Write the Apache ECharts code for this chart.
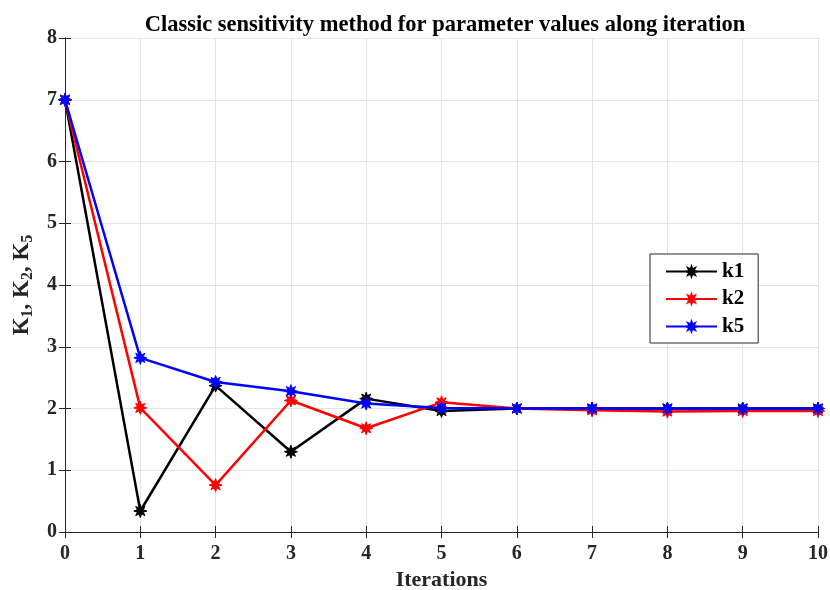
<!DOCTYPE html>
<html><head><meta charset="utf-8">
<script src="https://cdn.jsdelivr.net/npm/echarts@6/dist/echarts.min.js"></script>
<style>html,body{margin:0;padding:0;background:#fff}#c{width:830px;height:590px}</style>
</head><body><div id="c"></div>
<script>
const iterations = [0,1,2,3,4,5,6,7,8,9,10];
const k1 = [7, 0.34, 2.37, 1.30, 2.16, 1.96, 2.0, 2.0, 2.0, 2.0, 2.0];
const k2 = [7, 2.01, 0.76, 2.13, 1.68, 2.10, 2.0, 1.97, 1.95, 1.96, 1.96];
const k5 = [7, 2.82, 2.43, 2.28, 2.08, 2.01, 2.0, 2.0, 2.0, 2.0, 2.0];
const seriesNames = ['k1','k2','k5'];
const colors = ['#000000','#ff0000','#0000ff'];

const star = 'path://M1,0 L0.45,0.19 L0.707,0.707 L0.19,0.45 L0,1 L-0.19,0.45 L-0.707,0.707 L-0.45,0.19 L-1,0 L-0.45,-0.19 L-0.707,-0.707 L-0.19,-0.45 L0,-1 L0.19,-0.45 L0.707,-0.707 L0.45,-0.19 Z';
const font = 'Liberation Serif';
const chart = echarts.init(document.getElementById('c'), null, {renderer:'canvas'});
const mk = (name, data, color) => ({
  name, type:'line', data: data.map((v,i)=>[iterations[i], v]),
  symbol: star, symbolSize: 13, showSymbol:true,
  lineStyle:{color, width:2.5}, itemStyle:{color, borderColor:color, borderWidth:1}, z:2
});
const axLine = {show:true, lineStyle:{color:'#262626', width:1}};
const axTick = () => ({show:true, inside:true, length:6, lineStyle:{color:'#262626'}});
chart.setOption({
  animation:false,
  backgroundColor:'#fff',
  title:{text:'Classic sensitivity method for parameter values along iteration', left:440, textAlign:'center', top:9,
    textStyle:{fontFamily:font, fontWeight:'bold', fontSize:22.5, color:'#000'}},
  grid:{left:65, right:12, top:38, bottom:58, outerBoundsMode:'none', containLabel:false},
  legend:{
    data: seriesNames, orient:'vertical', left:650, top:254,
    itemWidth:51, itemHeight:12, itemGap:6.5,
    padding:[7,14,6,15],
    borderColor:'#262626', borderWidth:1, backgroundColor:'#fff',
    textStyle:{fontFamily:font, fontWeight:'bold', fontSize:21, color:'#000'}
  },
  xAxis:[{
    type:'value', min:0, max:10, interval:1, position:'bottom',
    axisLine:axLine, axisTick:axTick(),
    axisLabel:{fontFamily:font, fontWeight:'bold', fontSize:20, color:'#262626', margin:12},
    splitLine:{show:true, lineStyle:{color:'#e3e3e3', width:1}},
    name:'Iterations', nameLocation:'middle', nameGap:37,
    nameTextStyle:{fontFamily:font, fontWeight:'bold', fontSize:22, color:'#262626'}
  },{
    type:'value', min:0, max:10, interval:1, position:'top',
    axisLine:axLine, axisTick:axTick(), axisLabel:{show:false}, splitLine:{show:false}
  }],
  yAxis:[{
    type:'value', min:0, max:8, interval:1, position:'left',
    axisLine:axLine, axisTick:axTick(),
    axisLabel:{fontFamily:font, fontWeight:'bold', fontSize:20, color:'#262626', margin:8},
    splitLine:{show:true, lineStyle:{color:'#e3e3e3', width:1}},
    name:'{a|K}{s|1}{a|, K}{s|2}{a|, K}{s|5}', nameLocation:'middle', nameGap:27, nameRotate:90,
    nameTextStyle:{fontFamily:font, fontWeight:'bold', fontSize:23, color:'#262626',
      rich:{
        a:{fontFamily:font, fontWeight:'bold', fontSize:23, color:'#262626'},
        s:{fontFamily:font, fontWeight:'bold', fontSize:16, color:'#262626', verticalAlign:'bottom', padding:[12,0,0,0]}
      }}
  },{
    type:'value', min:0, max:8, interval:1, position:'right',
    axisLine:axLine, axisTick:axTick(), axisLabel:{show:false}, splitLine:{show:false}
  }],
  series:[mk(seriesNames[0], k1, colors[0]), mk(seriesNames[1], k2, colors[1]), mk(seriesNames[2], k5, colors[2])]
});
</script></body></html>
